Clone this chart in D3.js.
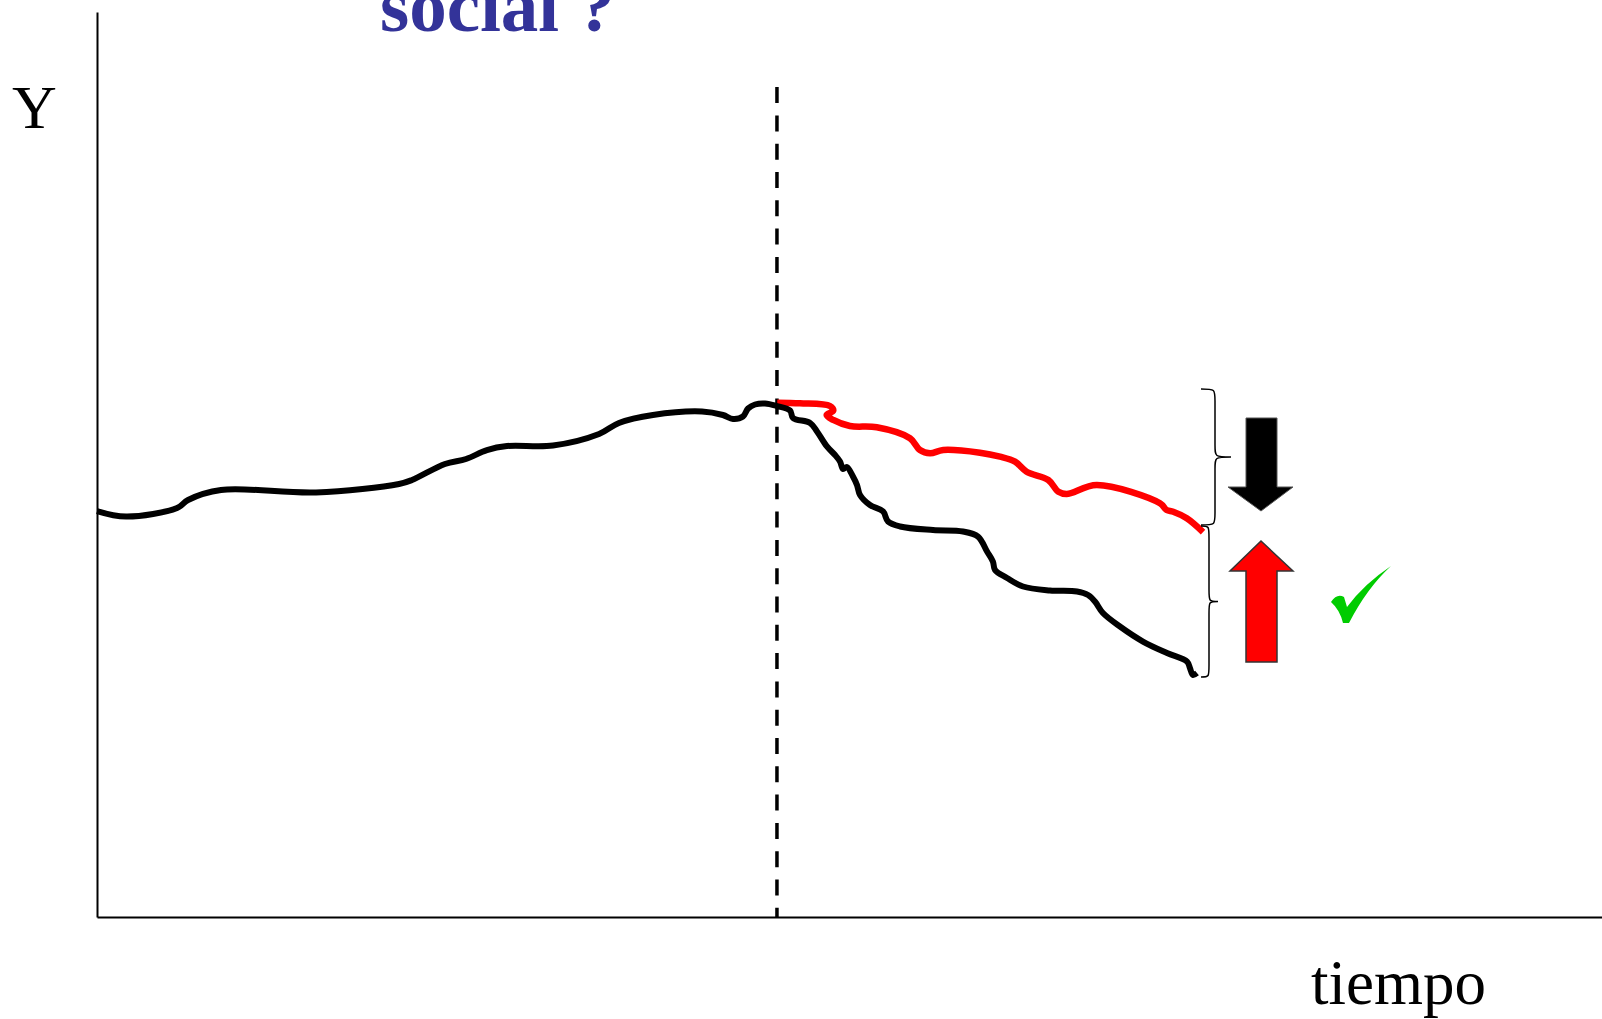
<!DOCTYPE html>
<html>
<head>
<meta charset="utf-8">
<script src="https://cdn.jsdelivr.net/npm/d3@7"></script>
<style>
  html, body { margin: 0; padding: 0; background: #fff; }
  svg { display: block; }
</style>
</head>
<body>
<script>
// ---- data (tiempo, Y) in chart units ----
const blackT = [0.0, 1.93, 5.32, 6.05, 8.24, 14.55, 20.07, 20.93, 23.12, 24.52, 25.91, 27.24, 30.30, 33.36, 34.68, 36.94, 40.20, 41.59, 42.26, 42.92, 43.26, 43.72, 44.39, 45.18,
  46.05, 46.25, 47.38, 47.84, 48.50, 49.04, 49.37, 49.57, 49.83, 50.23, 50.50, 50.70, 51.36, 52.23, 52.56, 53.36, 55.55, 57.54, 58.54, 59.14, 59.53, 59.67, 60.47, 61.53, 63.32, 65.12, 65.85, 66.31, 66.84, 67.97, 69.50, 71.10, 72.43, 72.62, 72.82, 73.09];
const blackY = [44.86, 44.25, 45.19, 46.08, 47.18, 46.91, 47.85, 48.29, 50.06, 50.61, 51.60, 52.04, 52.10, 53.37, 54.59, 55.47, 55.86, 55.47, 55.03, 55.30, 56.19, 56.63, 56.74, 56.46,
  55.97, 55.14, 54.59, 53.65, 51.99, 51.05, 50.33, 49.50, 49.72, 48.67, 47.73, 46.63, 45.52, 44.81, 43.70, 43.15, 42.76, 42.60, 42.04, 40.39, 39.28, 38.34, 37.46, 36.52, 36.08, 35.97, 35.58, 34.86, 33.59, 32.10, 30.44, 29.17, 28.23, 27.51, 26.74, 26.96];
const redT = [45.20, 46.71, 48.70, 48.92, 48.48, 48.92, 50.03, 51.81, 54.02, 54.68, 55.35, 56.23, 58.67, 60.00, 61.00, 61.77, 63.21, 63.88, 64.43, 66.43, 70.63, 71.07, 71.51, 72.41, 73.49];
const redY = [56.83, 56.76, 56.46, 55.94, 55.47, 54.92, 54.25, 54.11, 52.90, 51.60, 51.24, 51.60, 51.30, 50.86, 50.31, 49.20, 48.29, 46.99, 46.74, 47.73, 45.71, 44.97, 44.78, 44.06, 42.54];
const interventionT = 45.18;
const dashTop = 91.7;
const titleText = "social ?";
const yLabel = "Y";
const xLabel = "tiempo";

const W = 1602, H = 1019;
const svg = d3.select("body").append("svg").attr("width", W).attr("height", H);
svg.append("rect").attr("width", W).attr("height", H).attr("fill", "#fff");

const x = d3.scaleLinear().domain([0, 100]).range([97, 1602]);
const y = d3.scaleLinear().domain([0, 100]).range([917, 12]);

// axes (domain lines only)
svg.append("g").attr("transform", `translate(0,${y(0)})`)
  .call(d3.axisBottom(x).ticks(0).tickSizeOuter(0));
svg.append("g").attr("transform", `translate(${x(0)},0)`)
  .call(d3.axisLeft(y).ticks(0).tickSizeOuter(0));
svg.selectAll(".domain").attr("stroke", "#000").attr("stroke-width", 2);

// intervention dashed line
svg.append("line")
  .attr("x1", x(interventionT)).attr("x2", x(interventionT))
  .attr("y1", y(dashTop)).attr("y2", y(0))
  .attr("stroke", "#000").attr("stroke-width", 3.5)
  .attr("stroke-dasharray", "16,12.3");

const line = d3.line().x(d => x(d[0])).y(d => y(d[1])).curve(d3.curveCatmullRom.alpha(0.5));

svg.append("path").datum(redT.map((t, i) => [t, redY[i]]))
  .attr("d", line).attr("fill", "none").attr("stroke", "#ff0000")
  .attr("stroke-width", 6.5).attr("stroke-linejoin", "round").attr("stroke-linecap", "butt");

svg.append("path").datum(blackT.map((t, i) => [t, blackY[i]]))
  .attr("d", line).attr("fill", "none").attr("stroke", "#000")
  .attr("stroke-width", 6).attr("stroke-linejoin", "round").attr("stroke-linecap", "butt");

// braces
function brace(x0, xm, xp, y0, y1, r) {
  const ym = (y0 + y1) / 2;
  return `M${x0},${y0} C${xm},${y0} ${xm},${y0} ${xm},${y0 + r} V${ym - r} C${xm},${ym} ${xm},${ym} ${xp},${ym} ` +
         `C${xm},${ym} ${xm},${ym} ${xm},${ym + r} V${y1 - r} C${xm},${y1} ${xm},${y1} ${x0},${y1}`;
}
svg.append("path").attr("d", brace(1201, 1215, 1231, 389, 525, 12))
  .attr("fill", "none").attr("stroke", "#000").attr("stroke-width", 1.5);
svg.append("path").attr("d", brace(1201, 1209, 1218, 526, 677, 12))
  .attr("fill", "none").attr("stroke", "#000").attr("stroke-width", 1.5);

// arrows
svg.append("path").attr("d", "M1246,418 H1277 V487 H1293 L1261,511 L1228,487 H1246 Z")
  .attr("fill", "#000").attr("stroke", "#555").attr("stroke-width", 1);
svg.append("path").attr("d", "M1261,541 L1293,571 H1277 V662 H1246 V571 H1230 Z")
  .attr("fill", "#ff0000").attr("stroke", "#333").attr("stroke-width", 1.5);

// check mark
svg.append("path")
  .attr("d", "M1331,602 Q1337,593 1344,597 L1347,607 Q1364,584 1391,566 Q1367,588 1349,623 L1343,623 Q1340,610 1331,602 Z")
  .attr("fill", "#00cc00");

// texts
svg.append("text").attr("x", 380).attr("y", 31)
  .attr("font-family", "Liberation Serif, Times New Roman, serif").attr("font-weight", "bold")
  .attr("font-size", 75).attr("fill", "#333399").text(titleText);
svg.append("text").attr("x", 12).attr("y", 128)
  .attr("font-family", "Liberation Serif, Times New Roman, serif")
  .attr("font-size", 62).attr("fill", "#000").text(yLabel);
svg.append("text").attr("x", 1311).attr("y", 1004)
  .attr("font-family", "Liberation Serif, Times New Roman, serif")
  .attr("font-size", 63).attr("fill", "#000").text(xLabel);
</script>
</body>
</html>
